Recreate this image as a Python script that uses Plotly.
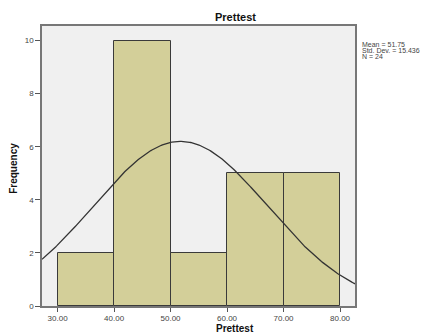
import numpy as np
import plotly.graph_objects as go

bin_centers = [35, 45, 55, 65, 75]
counts = [2, 10, 2, 5, 5]
bin_width = 10
mean_val = 51.75
std_val = 15.436
n_val = 24
x_ticks = [30, 40, 50, 60, 70, 80]
x_tick_labels = ["30.00", "40.00", "50.00", "60.00", "70.00", "80.00"]
y_ticks = [0, 2, 4, 6, 8, 10]
stats_lines = ["Mean = 51.75", "Std. Dev. = 15.436", "N = 24"]

x_range = [27.24, 82.65]
y_range = [0, 10.55]

xs = np.linspace(x_range[0], x_range[1], 300)
ys = n_val * bin_width / (std_val * np.sqrt(2 * np.pi)) * np.exp(-0.5 * ((xs - mean_val) / std_val) ** 2)

W, H = 430, 333
L, T, R, B = 34, 18, 83, 35
PW, PH = W - L - R, H - T - B

fig = go.Figure()
fig.add_trace(go.Bar(x=bin_centers, y=counts, width=bin_width,
                     marker=dict(color="#d3cf99", line=dict(color="#3a3a3a", width=1)),
                     hoverinfo="skip"))
fig.add_trace(go.Scatter(x=xs, y=ys, mode="lines", line=dict(color="#333333", width=1.3),
                         hoverinfo="skip"))

annotations = [
    dict(text="<b>Prettest</b>", x=(227 - L) / PW, y=1 + 9 / PH, xref="paper", yref="paper",
         xanchor="center", yanchor="middle",
         showarrow=False, font=dict(size=11, color="#111")),
    dict(text="<b>Prettest</b>", x=(227 - L) / PW, y=-22 / PH, xref="paper", yref="paper",
         xanchor="center", yanchor="middle",
         showarrow=False, font=dict(size=10, color="#111")),
    dict(text="<b>Frequency</b>", x=(6 - L) / PW, y=0.49, xref="paper", yref="paper",
         xanchor="center", yanchor="middle",
         textangle=-90, showarrow=False, font=dict(size=10, color="#111")),
]
for i, line in enumerate(stats_lines):
    annotations.append(dict(text=line, x=(352 - L) / PW, y=1 - (18.5 + 6 * i) / PH,
                            xref="paper", yref="paper", xanchor="left", yanchor="middle",
                            align="left", showarrow=False,
                            font=dict(size=7, color="#444")))

fig.update_layout(
    width=W, height=H, showlegend=False,
    margin=dict(l=L, r=R, t=T, b=B, autoexpand=False),
    paper_bgcolor="white", plot_bgcolor="#f0f0f0",
    bargap=0,
    font=dict(family="Liberation Sans, Arial, sans-serif", color="#333333"),
    xaxis=dict(range=x_range, tickvals=x_ticks, ticktext=x_tick_labels,
               ticks="outside", ticklen=4, tickcolor="#555", tickfont=dict(size=8, color="#444"),
               showgrid=False, zeroline=False, showline=True, linecolor="#777", linewidth=1.5,
               mirror=True, fixedrange=True),
    yaxis=dict(range=y_range, tickvals=y_ticks, ticks="outside", ticklen=5, tickcolor="#555",
               tickfont=dict(size=8, color="#444"), showgrid=False, zeroline=False,
               showline=True, linecolor="#777", linewidth=1.5, mirror=True, fixedrange=True),
    annotations=annotations,
)
fig.write_html("out.html")
